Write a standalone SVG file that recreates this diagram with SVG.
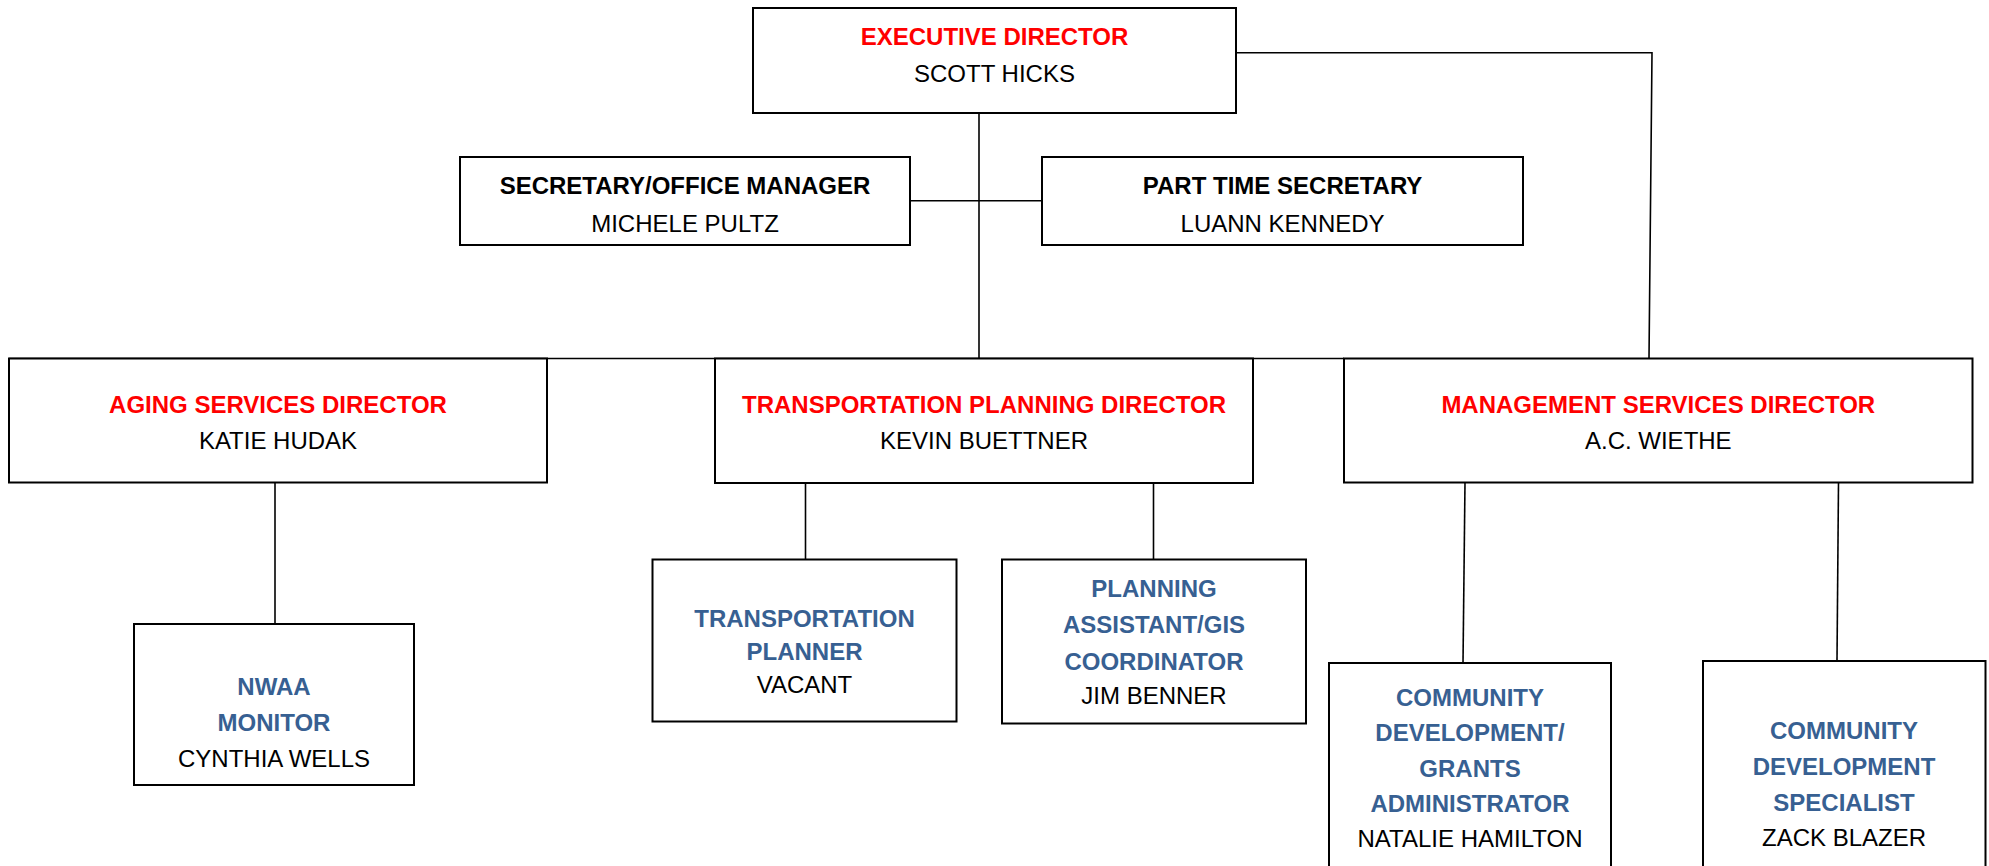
<svg xmlns="http://www.w3.org/2000/svg" width="1989" height="866" viewBox="0 0 1989 866">
<style>
.box{fill:#fff;stroke:#000;stroke-width:2}
.con{fill:none;stroke:#000;stroke-width:1.6}
text{font-family:"Liberation Sans",Arial,sans-serif;font-size:24px;text-anchor:middle}
.red{fill:#ff0000;font-weight:bold}
.blk{fill:#000;font-weight:bold}
.blue{fill:#376092;font-weight:bold}
.nm{fill:#000}
</style>
<rect width="1989" height="866" fill="#fff"/>
<g id="connectors">
<line class="con" x1="979" y1="113" x2="979" y2="358.5"/>
<line class="con" x1="910" y1="200.7" x2="1042" y2="200.7"/>
<polyline class="con" points="1236,52.7 1652,52.7 1649,358.5"/>
<line class="con" x1="9" y1="358.5" x2="1344" y2="358.5"/>
<line class="con" x1="275" y1="482.5" x2="275" y2="624"/>
<line class="con" x1="805.5" y1="483" x2="805.5" y2="559.5"/>
<line class="con" x1="1153.5" y1="483" x2="1153.5" y2="559.5"/>
<line class="con" x1="1465" y1="482.5" x2="1463" y2="663"/>
<line class="con" x1="1838.5" y1="482.5" x2="1837" y2="661"/>
</g>
<g id="exec">
<rect class="box" x="753" y="8" width="483" height="105"/>
<text class="red" x="994.5" y="45">EXECUTIVE DIRECTOR</text>
<text class="nm" x="994.5" y="81.7">SCOTT HICKS</text>
</g>
<g id="secretary">
<rect class="box" x="460" y="157" width="450" height="88"/>
<text class="blk" x="685" y="194.3">SECRETARY/OFFICE MANAGER</text>
<text class="nm" x="685" y="231.7">MICHELE PULTZ</text>
</g>
<g id="parttime">
<rect class="box" x="1042" y="157" width="481" height="88"/>
<text class="blk" x="1282.6" y="194.3">PART TIME SECRETARY</text>
<text class="nm" x="1282.6" y="231.7">LUANN KENNEDY</text>
</g>
<g id="aging">
<rect class="box" x="9" y="358.5" width="538" height="124"/>
<text class="red" x="278" y="412.7">AGING SERVICES DIRECTOR</text>
<text class="nm" x="278" y="448.7">KATIE HUDAK</text>
</g>
<g id="transport">
<rect class="box" x="715" y="358.5" width="538" height="124.5"/>
<text class="red" x="984" y="412.7">TRANSPORTATION PLANNING DIRECTOR</text>
<text class="nm" x="984" y="448.7">KEVIN BUETTNER</text>
</g>
<g id="management">
<rect class="box" x="1344" y="358.5" width="628.5" height="124"/>
<text class="red" x="1658.3" y="412.7">MANAGEMENT SERVICES DIRECTOR</text>
<text class="nm" x="1658.3" y="448.7">A.C. WIETHE</text>
</g>
<g id="nwaa">
<rect class="box" x="134" y="624" width="280" height="161"/>
<text class="blue" x="274" y="695">NWAA</text>
<text class="blue" x="274" y="731">MONITOR</text>
<text class="nm" x="274" y="766.7">CYNTHIA WELLS</text>
</g>
<g id="tplanner">
<rect class="box" x="652.5" y="559.5" width="304" height="162"/>
<text class="blue" x="804.5" y="627.3">TRANSPORTATION</text>
<text class="blue" x="804.5" y="659.8">PLANNER</text>
<text class="nm" x="804.5" y="693.3">VACANT</text>
</g>
<g id="planasst">
<rect class="box" x="1002" y="559.5" width="304" height="164"/>
<text class="blue" x="1154" y="597.3">PLANNING</text>
<text class="blue" x="1154" y="633.3">ASSISTANT/GIS</text>
<text class="blue" x="1154" y="670">COORDINATOR</text>
<text class="nm" x="1154" y="704.3">JIM BENNER</text>
</g>
<g id="cdgrants">
<rect class="box" x="1329" y="663" width="282" height="220"/>
<text class="blue" x="1470" y="705.7">COMMUNITY</text>
<text class="blue" x="1470" y="741">DEVELOPMENT/</text>
<text class="blue" x="1470" y="776.7">GRANTS</text>
<text class="blue" x="1470" y="811.7">ADMINISTRATOR</text>
<text class="nm" x="1470" y="847.3">NATALIE HAMILTON</text>
</g>
<g id="cdspecialist">
<rect class="box" x="1703" y="661" width="282.5" height="220"/>
<text class="blue" x="1844" y="739.3">COMMUNITY</text>
<text class="blue" x="1844" y="775">DEVELOPMENT</text>
<text class="blue" x="1844" y="810.7">SPECIALIST</text>
<text class="nm" x="1844" y="846">ZACK BLAZER</text>
</g>
</svg>
